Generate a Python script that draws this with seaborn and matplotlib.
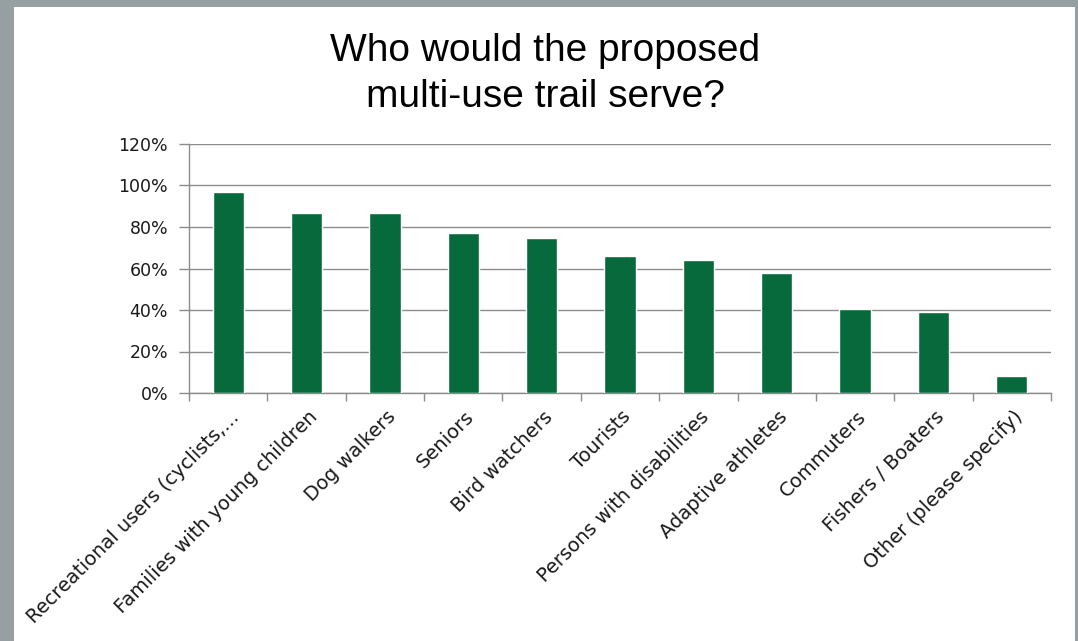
import matplotlib
matplotlib.use('Agg')
import matplotlib.pyplot as plt
import matplotlib.transforms as mtransforms
from matplotlib.patches import Rectangle
from matplotlib.ticker import PercentFormatter, FixedLocator
import seaborn as sns
import pandas as pd

# Survey data (percent of respondents)
categories = [
    "Recreational users (cyclists,...",
    "Families with young children",
    "Dog walkers",
    "Seniors",
    "Bird watchers",
    "Tourists",
    "Persons with disabilities",
    "Adaptive athletes",
    "Commuters",
    "Fishers / Boaters",
    "Other (please specify)",
]
shares = [97.0, 86.9, 86.6, 77.1, 74.7, 66.0, 64.1, 57.8, 40.5, 39.2, 8.3]
y_ticks = [0, 20, 40, 60, 80, 100, 120]

bar_color = "#076a3c"
grid_color = "#8c8c8c"
border_color = "#969fa2"

sns.set_theme(style="white")
plt.rcParams['font.family'] = ['DejaVu Sans']

df = pd.DataFrame({"category": categories, "share": shares})

fig = plt.figure(figsize=(10.78, 6.41), dpi=100, facecolor=border_color)
# white slide area inside the grey frame
fig.patches.append(Rectangle((14 / 1078, 0), (1075 - 14) / 1078, (641 - 7) / 641,
                             transform=fig.transFigure, facecolor="white",
                             edgecolor="none", zorder=-10))

ax = fig.add_axes([189 / 1078, (641 - 393) / 641, 862 / 1078, 249 / 641])
ax.set_facecolor("none")
ax.set_zorder(5)

sns.barplot(data=df, x="category", y="share", color=bar_color, width=0.4,
            saturation=1, ax=ax, zorder=3)

ax.set_xlim(-0.5, len(categories) - 0.5)
ax.set_ylim(0, 120)
ax.set_yticks(y_ticks)
ax.yaxis.set_major_formatter(PercentFormatter(decimals=0))
ax.grid(axis="y", color=grid_color, linewidth=1, zorder=0)
ax.set_axisbelow(True)

for side in ["top", "right"]:
    ax.spines[side].set_visible(False)
for side in ["left", "bottom"]:
    ax.spines[side].set_color(grid_color)
    ax.spines[side].set_linewidth(1)

# ticks: y on the left, x at category boundaries
ax.tick_params(axis="y", length=7, width=1, color=grid_color, labelsize=12.5,
               labelcolor="#1a1a1a", pad=8, left=True)
ax.tick_params(axis="x", which="major", length=0, labelsize=14,
               labelcolor="#1a1a1a", pad=0)
ax.xaxis.set_minor_locator(FixedLocator([i - 0.5 for i in range(len(categories) + 1)]))
ax.tick_params(axis="x", which="minor", length=6, width=1, color=grid_color, bottom=True)

offset = mtransforms.ScaledTranslation(0.08, -0.21, fig.dpi_scale_trans)
for lbl in ax.get_xticklabels():
    lbl.set_rotation(45)
    lbl.set_ha("right")
    lbl.set_va("center")
    lbl.set_rotation_mode("anchor")
    lbl.set_transform(lbl.get_transform() + offset)

ax.set_xlabel("")
ax.set_ylabel("")

fig.text(545 / 1078, 1 - 74 / 641, "Who would the proposed\nmulti-use trail serve?",
         ha="center", va="center", fontsize=28, family="Liberation Sans",
         linespacing=1.34, color="black")

fig.savefig("out.png", dpi=100, facecolor=fig.get_facecolor())
